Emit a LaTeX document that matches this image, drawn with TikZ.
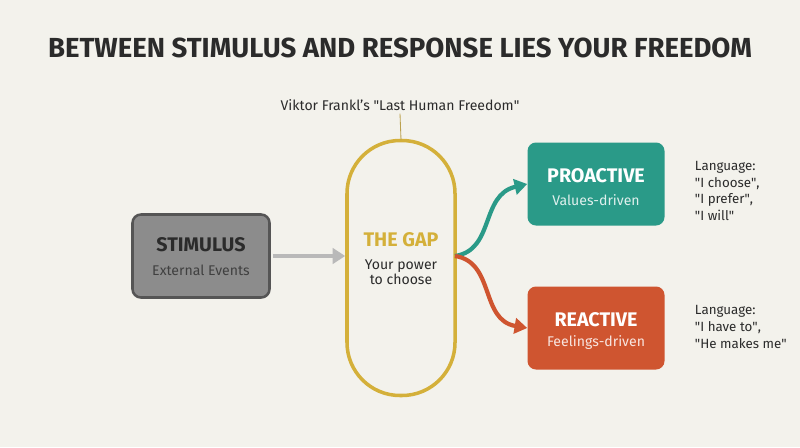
\documentclass[tikz,border=0pt]{standalone}
\usepackage{fontspec}
\setmainfont{Fira Sans}
\usetikzlibrary{arrows.meta}
\definecolor{bg}{HTML}{F3F2EC}
\definecolor{ink}{HTML}{2B2B2B}
\definecolor{gapcol}{HTML}{D4B03A}
\definecolor{procol}{HTML}{2A9A88}
\definecolor{reacol}{HTML}{CF5530}
\definecolor{stimcol}{HTML}{8C8C8C}
\newcommand{\qq}[1]{\textquotedbl#1\textquotedbl}
\begin{document}
\begin{tikzpicture}
        [x=0.025cm, y=-0.025cm,
        box/.style={rounded corners=6pt, minimum width=137*0.025cm, minimum height=83*0.025cm, align=center},
        head/.style={font=\fontsize{14}{16}\selectfont\bfseries},
        sub/.style={font=\fontsize{10}{11.5}\selectfont},
        side/.style={font=\fontsize{9.5}{12}\selectfont, align=left, anchor=west, text=ink},
        link/.style={line width=3pt, -{Triangle[length=9pt, width=11pt]}}]

        \fill[bg] (0,0) rectangle (800,447);

        % title and quote
        \node[font=\fontsize{19.6}{23}\selectfont\bfseries, text=ink] (title) at (400,48) {BETWEEN STIMULUS AND RESPONSE LIES YOUR FREEDOM};
        \node[sub, text=ink] (quote) at (400,105) {Viktor Frankl's \qq{Last Human Freedom}};

        % the gap
        \node[draw=gapcol, line width=2.5pt, rounded corners=53*0.025cm, minimum width=108*0.025cm, minimum height=255*0.025cm, align=center] (gap) at (401,268) {};
        \coordinate (gaptop) at (401,140);
        \draw[gapcol!70!gray, line width=0.6pt] (quote.south) ++(0,-2) coordinate (q) -- (gaptop);
        \node[head, text=gapcol] (gaphead) at (401,240) {THE GAP};
        \node[sub, text=ink, align=center] (gaptext) at (401,272) {Your power\\[-1pt]to choose};

        % boxes
        \node[box, fill=stimcol, draw=ink!80, line width=1.8pt] (stim) at (201,256) {};
        \node[head, text=ink] at (201,245) {STIMULUS};
        \node[sub, text=ink!90] at (201,270) {External Events};

        \node[box, fill=procol] (pro) at (596,184) {};
        \node[head, text=white] at (596,176) {PROACTIVE};
        \node[sub, text=white!85!procol] at (596,200) {Values-driven};

        \node[box, fill=reacol] (rea) at (596,328) {};
        \node[head, text=white] at (596,320) {REACTIVE};
        \node[sub, text=white!85!reacol] at (596,343) {Feelings-driven};

        % arrows
        \draw[link, gray!55] (stim.east) ++(2,0) -- (gap.west |- stim.east);
        \coordinate (fork) at (455,256);
        \draw[link, procol] (fork) .. controls (495,250) and (480,195) .. (pro.west);
        \draw[link, reacol] (fork) .. controls (495,262) and (480,320) .. (rea.west);

        % language notes
        \node[side] (prolang) at (690,191) {Language:\\\qq{I choose},\\\qq{I prefer},\\\qq{I will}};
        \node[side] (realang) at (690,327) {Language:\\\qq{I have to},\\\qq{He makes me}};
\end{tikzpicture}
\end{document}
